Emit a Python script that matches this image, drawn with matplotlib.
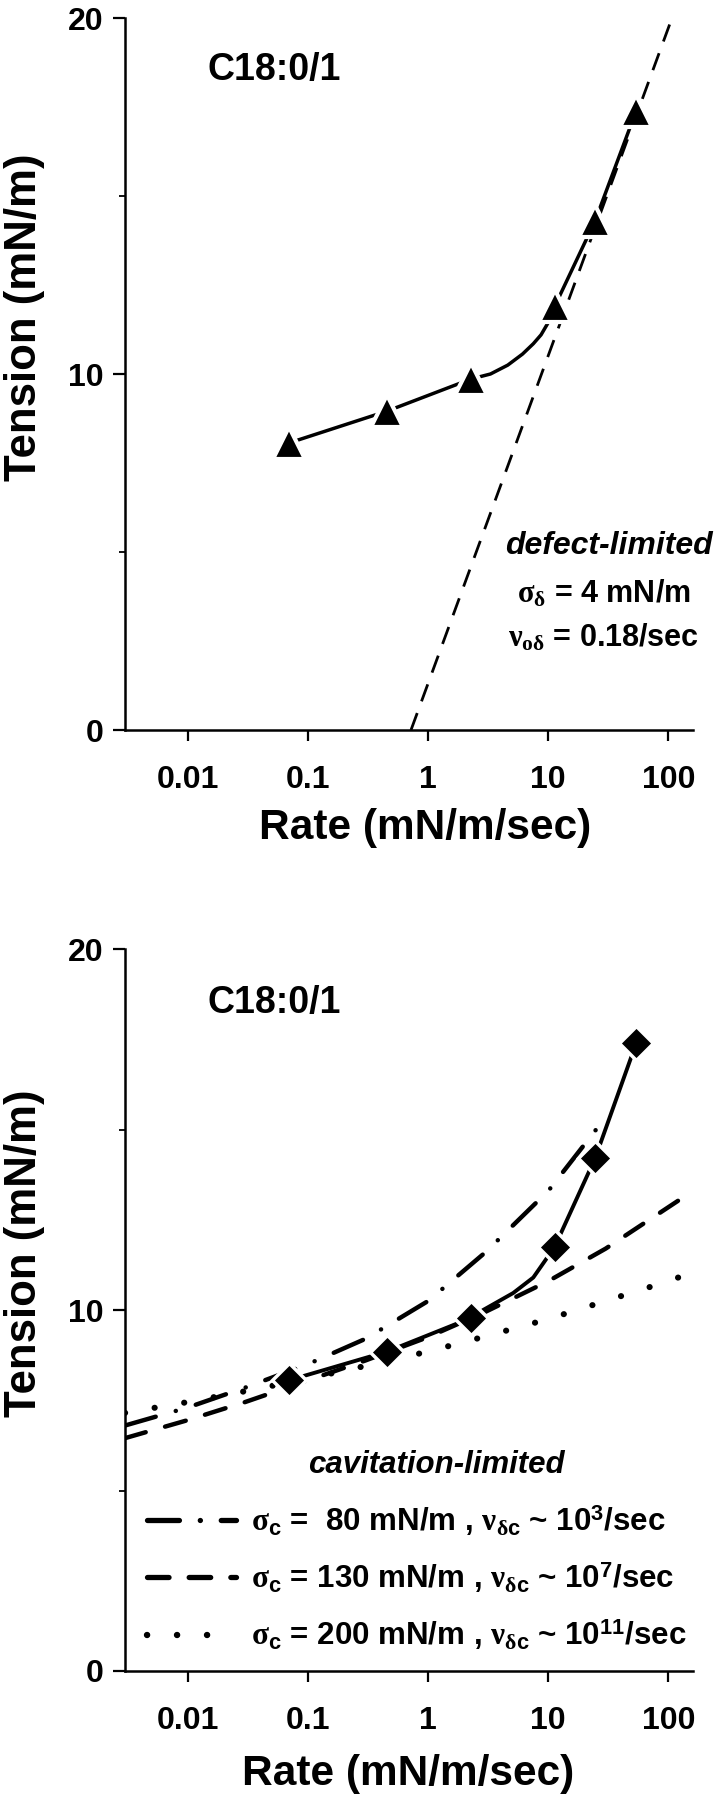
import matplotlib
matplotlib.use("Agg")
import matplotlib.pyplot as plt
from matplotlib.ticker import FixedLocator, FixedFormatter, NullLocator

SANS = 'Liberation Sans'
plt.rcParams['font.family'] = [SANS, 'DejaVu Sans']
plt.rcParams['font.weight'] = 'bold'
plt.rcParams['mathtext.fontset'] = 'custom'
plt.rcParams['mathtext.rm'] = 'Liberation Serif'
plt.rcParams['mathtext.it'] = 'Liberation Serif:italic'
plt.rcParams['mathtext.bf'] = SANS + ':bold'
plt.rcParams['mathtext.sf'] = SANS + ':bold'
plt.rcParams['lines.scale_dashes'] = False

# ---------------- data ----------------
rate = [0.069, 0.457, 2.28, 11.3, 24.5, 54.0]
tension_top = [8.06, 8.96, 9.86, 11.9, 14.3, 17.4]
tension_bot = [8.05, 8.85, 9.78, 11.75, 14.2, 17.4]

fit_top_x = [0.069, 0.457, 2.28, 3.3, 4.6, 6.1, 7.5, 8.7, 10.0, 11.3, 24.5, 54.0]
fit_top_y = [8.06, 8.96, 9.86, 10.0, 10.25, 10.56, 10.85, 11.1, 11.45, 11.9, 14.3, 17.4]

fit_bot_x = [0.069, 0.457, 2.28, 2.87, 5.1, 7.5, 9.1, 11.3, 24.5, 54.0]
fit_bot_y = [8.05, 8.85, 9.78, 10.0, 10.47, 10.9, 11.3, 11.75, 14.2, 17.4]

defect_x = [0.72, 107.0]
defect_y = [0.0, 20.0]

cav80_x = [0.003, 0.01, 0.03, 0.1, 0.3, 1.0, 3.0, 10.0, 25.0]
cav80_y = [6.8, 7.3, 7.85, 8.5, 9.2, 10.25, 11.6, 13.3, 15.0]

cav130_x = [0.003, 0.01, 0.03, 0.1, 0.3, 1.0, 3.0, 10.0, 30.0, 100.0, 160.0]
cav130_y = [6.45, 6.95, 7.45, 8.05, 8.6, 9.25, 9.95, 10.8, 11.7, 12.85, 13.3]

cav200_x = [0.003, 0.01, 0.03, 0.1, 0.3, 1.0, 3.0, 10.0, 30.0, 100.0, 160.0]
cav200_y = [7.15, 7.45, 7.75, 8.1, 8.45, 8.85, 9.27, 9.75, 10.25, 10.8, 11.05]

xticks = [0.01, 0.1, 1, 10, 100]
xticklabels = ['0.01', '0.1', '1', '10', '100']
yticks = [0, 10, 20]
yticklabels = ['0', '10', '20']
yminor = [5, 15]

sample_label = 'C18:0/1'
cav_labels = [
    r'$\mathrm{\sigma}_{\mathbf{c}}$ =  80 mN/m , $\mathrm{\nu}_{\mathrm{\delta}\mathbf{c}}$ ~ $\mathbf{10}^{\mathbf{3}}$/sec',
    r'$\mathrm{\sigma}_{\mathbf{c}}$ = 130 mN/m , $\mathrm{\nu}_{\mathrm{\delta}\mathbf{c}}$ ~ $\mathbf{10}^{\mathbf{7}}$/sec',
    r'$\mathrm{\sigma}_{\mathbf{c}}$ = 200 mN/m , $\mathrm{\nu}_{\mathrm{\delta}\mathbf{c}}$ ~ $\mathbf{10}^{\mathbf{11}}$/sec',
]

# ---------------- figure ----------------
W, H = 719, 1800
fig = plt.figure(figsize=(W / 100, H / 100), dpi=100)

def px_axes(left, right, top, bottom):
    return fig.add_axes([left / W, 1 - bottom / H, (right - left) / W, (bottom - top) / H])

ax1 = px_axes(125, 693, 18, 730)
ax2 = px_axes(125, 693, 949, 1671)

DASH_DEF = (0, (13, 9))
DASH_DOT = (0, (23, 15, 0.1, 15))
DASH_LONG = (0, (15.5, 14.5))
DOTS = (0, (0.1, 21.5))

def style(ax, xlabel_x, xlabel_y, ylabel_y, label_y):
    ax.set_xscale('log')
    ax.set_xlim(0.003, 160)
    ax.set_ylim(0, 20)
    for s in ('top', 'right'):
        ax.spines[s].set_visible(False)
    for s in ('left', 'bottom'):
        ax.spines[s].set_linewidth(1.8)
    ax.xaxis.set_major_locator(FixedLocator(xticks))
    ax.xaxis.set_major_formatter(FixedFormatter(xticklabels))
    ax.xaxis.set_minor_locator(NullLocator())
    ax.yaxis.set_major_locator(FixedLocator(yticks))
    ax.yaxis.set_major_formatter(FixedFormatter(yticklabels))
    ax.yaxis.set_minor_locator(FixedLocator(yminor))
    ax.tick_params(axis='x', which='major', direction='out', length=8, width=1.6,
                   pad=17, labelsize=23)
    ax.tick_params(axis='y', which='major', direction='out', length=8.5, width=1.6,
                   pad=7, labelsize=23)
    ax.tick_params(axis='y', which='minor', direction='out', length=4, width=1.3)
    ax.set_xlabel('Rate (mN/m/sec)', fontsize=30.5, fontweight='bold', va='center')
    ax.xaxis.set_label_coords(xlabel_x, xlabel_y)
    ax.set_ylabel('Tension (mN/m)', fontsize=31.5, fontweight='bold', va='center')
    ax.yaxis.set_label_coords(-0.177, ylabel_y)
    ax.text(0.0145, label_y, sample_label, fontsize=27, fontweight='bold', va='center')

# ---------- top panel ----------
style(ax1, 0.528, -0.138, 0.58, 18.55)
ax1.plot(defect_x, defect_y, color='black', lw=2.0, linestyle=DASH_DEF, zorder=2)
ax1.plot(fit_top_x, fit_top_y, color='black', lw=2.5, zorder=3)
ax1.plot(rate, tension_top, linestyle='none', marker='^', ms=23, color='black',
         mec='white', mew=3, zorder=4)
ax1.text(0.852, 5.17, 'defect-limited', transform=ax1.get_yaxis_transform(),
         fontsize=23, fontweight='bold', style='italic', ha='center', va='center')
ax1.text(0.843, 3.82, r'$\mathrm{\sigma}_{\mathrm{\delta}}$ = 4 mN/m',
         transform=ax1.get_yaxis_transform(), fontsize=22, ha='center', va='center')
ax1.text(0.843, 2.6, r'$\mathrm{\nu}_{\mathrm{o\delta}}$ = 0.18/sec',
         transform=ax1.get_yaxis_transform(), fontsize=22, ha='center', va='center')

# ---------- bottom panel ----------
style(ax2, 0.498, -0.143, 0.578, 18.5)
ax2.plot(cav80_x, cav80_y, color='black', lw=3.2, linestyle=DASH_DOT,
         dash_capstyle='round', zorder=2)
ax2.plot(cav130_x, cav130_y, color='black', lw=3.2, linestyle=DASH_LONG,
         dash_capstyle='round', zorder=2)
ax2.plot(cav200_x, cav200_y, color='black', lw=4.4, linestyle=DOTS,
         dash_capstyle='round', zorder=2)
ax2.plot(fit_bot_x, fit_bot_y, color='black', lw=2.8, zorder=3)
ax2.plot(rate, tension_bot, linestyle='none', marker='D', ms=17, color='black',
         mec='white', mew=2.5, zorder=4)

ax2.text(0.548, 5.7, 'cavitation-limited', transform=ax2.get_yaxis_transform(),
         fontsize=22.5, fontweight='bold', style='italic', ha='center', va='center')
row_y = [4.18, 2.6, 1.0]
row_styles = [(DASH_DOT, 3.8), (DASH_LONG, 3.8), (DOTS, 4.6)]
for yv, lab, (ls, lw) in zip(row_y, cav_labels, row_styles):
    ax2.plot([0.039, 0.196], [yv, yv], transform=ax2.get_yaxis_transform(),
             color='black', lw=lw, linestyle=ls, dash_capstyle='round',
             solid_capstyle='butt', clip_on=False)
    ax2.text(0.222, yv, lab, transform=ax2.get_yaxis_transform(),
             fontsize=22.5, ha='left', va='center')

fig.savefig('out.png', dpi=100)
